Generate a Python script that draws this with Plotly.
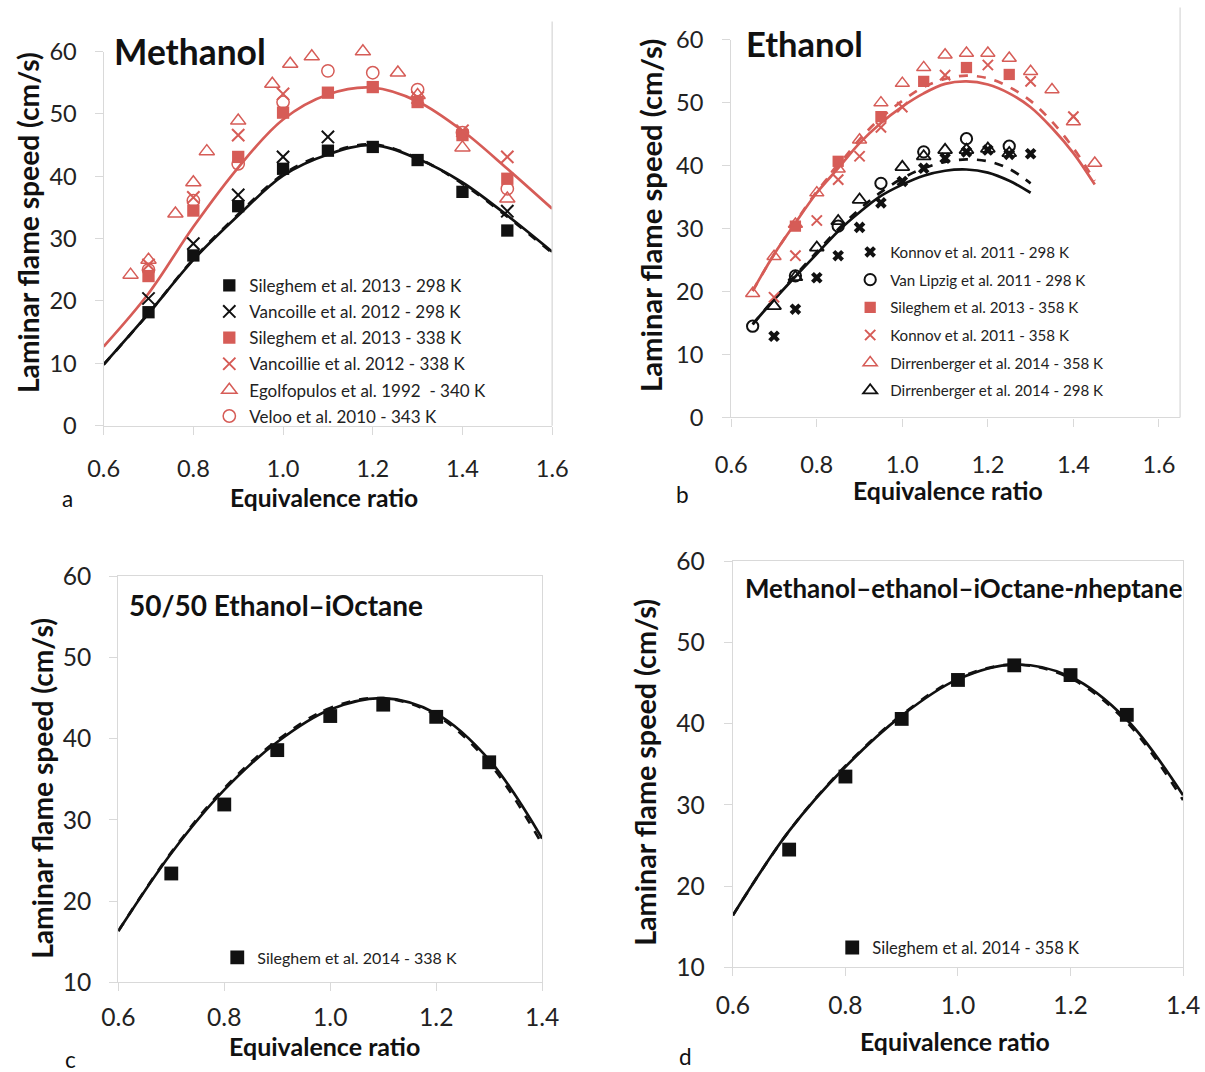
import plotly.graph_objects as go

W, H = 1205, 1072
FONT = "Lato"
BLACK = "#111111"
RED = "#d65c57"
AXIS_GREY = "#d9d9d9"
TICK_COLOR = "#222222"

# ---------------- Panel a: methanol ----------------
a_phi = [0.7, 0.8, 0.9, 1.0, 1.1, 1.2, 1.3, 1.4, 1.5]
a_sil298 = [18.2, 27.3, 35.2, 41.2, 44.1, 44.7, 42.6, 37.5, 31.3]
a_van298_phi = [0.7, 0.8, 0.9, 1.0, 1.1, 1.5]
a_van298 = [20.4, 29.2, 37.0, 43.1, 46.3, 34.4]
a_sil338 = [24.0, 34.5, 43.1, 50.2, 53.4, 54.3, 51.9, 46.6, 39.6]
a_van338_phi = [0.7, 0.8, 0.9, 1.0, 1.3, 1.4, 1.5]
a_van338 = [25.8, 36.6, 46.6, 53.2, 52.6, 47.3, 43.1]
a_ego_phi = [0.66, 0.70, 0.76, 0.80, 0.83, 0.90, 0.976, 1.016, 1.064, 1.178, 1.256, 1.30, 1.40, 1.50]
a_ego = [24.2, 26.6, 34.0, 39.0, 44.0, 48.9, 54.8, 58.0, 59.2, 60.0, 56.6, 53.0, 44.6, 36.4]
a_vel_phi = [0.7, 0.8, 0.9, 1.0, 1.1, 1.2, 1.3, 1.4, 1.5]
a_vel = [25.0, 36.1, 42.0, 51.9, 56.9, 56.6, 53.9, 47.0, 38.0]
a_curve_phi = [0.6, 0.7, 0.8, 0.9, 1.0, 1.1, 1.2, 1.3, 1.4, 1.5, 1.6]
a_black_solid = [9.8, 18.0, 26.6, 33.7, 40.1, 43.5, 45.0, 42.8, 39.0, 33.7, 27.9]
a_black_dashed = [9.8, 18.0, 26.7, 33.9, 40.3, 43.7, 45.1, 42.9, 38.8, 33.5, 27.7]
a_red_solid = [12.7, 21.2, 31.9, 41.4, 49.1, 53.1, 54.2, 52.0, 47.3, 41.2, 34.8]

# ---------------- Panel b: ethanol ----------------
b_kon298_phi = [0.70, 0.75, 0.80, 0.85, 0.90, 0.95, 1.00, 1.05, 1.10, 1.15, 1.20, 1.25, 1.30]
b_kon298 = [12.9, 17.2, 22.2, 25.7, 30.2, 34.1, 37.5, 39.6, 41.2, 42.2, 42.5, 41.8, 41.9]
b_vlz_phi = [0.65, 0.75, 0.85, 0.95, 1.05, 1.15, 1.25]
b_vlz = [14.5, 22.5, 30.4, 37.2, 42.2, 44.3, 43.1]
b_sil358_phi = [0.75, 0.85, 0.95, 1.05, 1.15, 1.25]
b_sil358 = [30.4, 40.7, 47.8, 53.4, 55.6, 54.5]
b_kon358_phi = [0.70, 0.75, 0.80, 0.85, 0.90, 0.95, 1.00, 1.10, 1.20, 1.30, 1.40]
b_kon358 = [19.1, 25.7, 31.3, 37.8, 41.5, 46.1, 49.3, 54.4, 56.0, 53.4, 47.8]
b_dir358_phi = [0.65, 0.70, 0.75, 0.80, 0.85, 0.90, 0.95, 1.00, 1.05, 1.10, 1.15, 1.20, 1.25, 1.30, 1.35, 1.40, 1.45]
b_dir358 = [19.7, 25.6, 30.7, 35.7, 39.5, 44.1, 50.0, 53.1, 55.6, 57.6, 57.9, 57.9, 57.1, 55.0, 52.1, 47.0, 40.4]
b_dir298_phi = [0.70, 0.75, 0.80, 0.85, 0.90, 1.00, 1.05, 1.10, 1.15, 1.20, 1.25]
b_dir298 = [17.7, 22.3, 27.0, 31.2, 34.6, 39.8, 41.5, 42.5, 42.5, 42.7, 42.0]
b_red_phi = [0.65, 0.70, 0.75, 0.80, 0.85, 0.90, 0.95, 1.00, 1.05, 1.10, 1.15, 1.20, 1.25, 1.30, 1.35, 1.40, 1.45]
b_red_solid = [20.1, 25.9, 30.9, 35.7, 39.6, 43.6, 46.8, 49.4, 51.5, 53.0, 53.4, 52.9, 51.5, 49.3, 46.0, 42.0, 37.0]
b_red_dashed = [20.1, 25.9, 31.0, 35.9, 40.0, 44.2, 47.6, 50.3, 52.5, 53.8, 54.3, 53.9, 52.5, 50.3, 47.0, 42.8, 37.6]
b_black_phi = [0.65, 0.70, 0.75, 0.80, 0.85, 0.90, 0.95, 1.00, 1.05, 1.10, 1.15, 1.20, 1.25, 1.30]
b_black_solid = [14.8, 18.7, 22.4, 26.0, 29.6, 32.6, 35.2, 37.0, 38.4, 39.2, 39.4, 38.9, 37.6, 35.7]
b_black_dashed = [14.8, 18.8, 22.6, 26.3, 29.9, 33.1, 35.8, 38.0, 39.6, 40.6, 41.0, 40.7, 39.5, 37.2]

# ---------------- Panel c: 50/50 ethanol-iOctane ----------------
c_phi = [0.7, 0.8, 0.9, 1.0, 1.1, 1.2, 1.3]
c_sil338 = [23.4, 31.9, 38.6, 42.8, 44.2, 42.7, 37.1]
c_curve_phi = [0.6, 0.7, 0.8, 0.9, 1.0, 1.1, 1.2, 1.3, 1.4]
c_solid = [16.3, 25.9, 33.7, 39.6, 43.6, 45.0, 43.1, 37.4, 27.7]
c_dashed = [16.3, 26.0, 33.9, 39.8, 43.8, 45.0, 42.9, 37.0, 27.0]

# ---------------- Panel d: quaternary blend ----------------
d_phi = [0.7, 0.8, 0.9, 1.0, 1.1, 1.2, 1.3]
d_sil358 = [24.5, 33.5, 40.6, 45.4, 47.2, 46.0, 41.1]
d_curve_phi = [0.6, 0.7, 0.8, 0.9, 1.0, 1.1, 1.2, 1.3, 1.4]
d_solid = [16.4, 26.8, 34.7, 41.0, 45.5, 47.3, 45.8, 40.5, 31.2]
d_dashed = [16.4, 26.8, 34.8, 41.1, 45.6, 47.3, 45.6, 40.2, 30.6]

x_ticks_wide = [0.6, 0.8, 1.0, 1.2, 1.4, 1.6]
x_ticks_narrow = [0.6, 0.8, 1.0, 1.2, 1.4]

# Page geometry: positions below are given in final-picture pixels; the
# figure is laid out on a slightly enlarged grid centred on the page.
S = 0.975
OX = W * (1 - S) / 2
OY = H * (1 - S) / 2


def px_x(v):
    return ((v - OX) / S) / W


def px_y(v):
    return 1 - ((v - OY) / S) / H


def fs(v):
    return v / S


fig = go.Figure()
group_counter = [0]


def markers(x, y, name, symbol, color, size, axes, legend, lw=2):
    group_counter[0] += 1
    fig.add_trace(go.Scatter(
        x=x, y=y, mode="markers", name=name,
        legendgroup=f"g{group_counter[0]}",
        marker=dict(symbol=symbol, color=color, size=fs(size),
                    line=dict(color=color, width=lw)),
        xaxis=axes[0], yaxis=axes[1], legend=legend, cliponaxis=False))


def curve(x, y, color, axes, dash="solid", width=2.7):
    fig.add_trace(go.Scatter(
        x=x, y=y, mode="lines", showlegend=False, hoverinfo="skip",
        line=dict(color=color, width=width, dash=dash, shape="spline", smoothing=1.0),
        xaxis=axes[0], yaxis=axes[1]))


A = ("x", "y")
B = ("x2", "y2")
C = ("x3", "y3")
D = ("x4", "y4")

# panel a
curve(a_curve_phi, a_black_dashed, BLACK, A, dash="dash")
curve(a_curve_phi, a_black_solid, BLACK, A)
curve(a_curve_phi, a_red_solid, RED, A)
markers(a_phi, a_sil298, "Sileghem et al. 2013 - 298 K", "square", BLACK, 12, A, "legend", 0)
markers(a_van298_phi, a_van298, "Vancoille et al. 2012 - 298 K", "x-thin", BLACK, 12, A, "legend")
markers(a_phi, a_sil338, "Sileghem et al. 2013 - 338 K", "square", RED, 12, A, "legend", 0)
markers(a_van338_phi, a_van338, "Vancoillie et al. 2012 - 338 K", "x-thin", RED, 12, A, "legend")
markers(a_ego_phi, a_ego, "Egolfopulos et al. 1992  - 340 K", "triangle-up-open", RED, 13, A, "legend", 1.5)
markers(a_vel_phi, a_vel, "Veloo et al. 2010 - 343 K", "circle-open", RED, 12, A, "legend", 1.5)

# panel b
curve(b_red_phi, b_red_dashed, RED, B, dash="dash")
curve(b_red_phi, b_red_solid, RED, B)
curve(b_black_phi, b_black_dashed, BLACK, B, dash="dash")
curve(b_black_phi, b_black_solid, BLACK, B)
markers(b_kon298_phi, b_kon298, "Konnov et al. 2011 - 298 K", "x", BLACK, 10, B, "legend2", 0)
markers(b_vlz_phi, b_vlz, "Van Lipzig et al. 2011 - 298 K", "circle-open", BLACK, 11, B, "legend2", 2)
markers(b_sil358_phi, b_sil358, "Sileghem et al. 2013 - 358 K", "square", RED, 11, B, "legend2", 0)
markers(b_kon358_phi, b_kon358, "Konnov et al. 2011 - 358 K", "x-thin", RED, 10, B, "legend2")
markers(b_dir358_phi, b_dir358, "Dirrenberger et al. 2014 - 358 K", "triangle-up-open", RED, 12, B, "legend2", 1.5)
markers(b_dir298_phi, b_dir298, "Dirrenberger et al. 2014 - 298 K", "triangle-up-open", BLACK, 12, B, "legend2", 1.8)

# panel c
curve(c_curve_phi, c_dashed, BLACK, C, dash="dash")
curve(c_curve_phi, c_solid, BLACK, C)
markers(c_phi, c_sil338, "Sileghem et al. 2014 - 338 K", "square", BLACK, 13.5, C, "legend3", 0)

# panel d
curve(d_curve_phi, d_dashed, BLACK, D, dash="dash")
curve(d_curve_phi, d_solid, BLACK, D)
markers(d_phi, d_sil358, "Sileghem et al. 2014 - 358 K", "square", BLACK, 13.5, D, "legend4", 0)


def xaxis(x0, x1, rng, ticks, standoff, size, mirror=False):
    return dict(domain=[px_x(x0), px_x(x1)], range=rng, tickvals=ticks,
                tickformat=".1f", showgrid=False, zeroline=False,
                showline=True, linecolor=AXIS_GREY, linewidth=1.3, mirror=mirror,
                ticks="outside", ticklen=8, tickcolor=AXIS_GREY, tickwidth=1.3,
                ticklabelstandoff=int(standoff),
                tickfont=dict(family=FONT, size=fs(size), color=TICK_COLOR))


def yaxis(y0, y1, rng, standoff, size, mirror=False):
    return dict(domain=[px_y(y0), px_y(y1)], range=rng, dtick=10,
                showgrid=False, zeroline=False,
                showline=True, linecolor=AXIS_GREY, linewidth=1.3, mirror=mirror,
                ticks="outside", ticklen=8, tickcolor=AXIS_GREY, tickwidth=1.3,
                ticklabelstandoff=int(standoff),
                tickfont=dict(family=FONT, size=fs(size), color=TICK_COLOR))


fig.update_layout(
    width=W, height=H, margin=dict(l=0, r=0, t=0, b=0),
    paper_bgcolor="white", plot_bgcolor="white",
    font=dict(family=FONT, color="#111111"),
    xaxis=xaxis(102, 552, [0.6, 1.6], x_ticks_wide, 14, 23),
    yaxis=yaxis(425, 50, [0, 60], 13, 23),
    xaxis2=dict(xaxis(731.7, 1182.2, [0.6, 1.65], x_ticks_wide, 18, 23), anchor="y2"),
    yaxis2=dict(yaxis(416.7, 38.3, [0, 60], 14, 23), anchor="x2"),
    xaxis3=dict(xaxis(116.7, 542, [0.6, 1.4], x_ticks_narrow, 5, 24, mirror=True), anchor="y3"),
    yaxis3=dict(yaxis(982.7, 576, [10, 60], 13, 24, mirror=True), anchor="x3"),
    xaxis4=dict(xaxis(733.3, 1185, [0.6, 1.4], x_ticks_narrow, 8, 24, mirror=True), anchor="y4"),
    yaxis4=dict(yaxis(967.7, 561, [10, 60], 14, 24, mirror=True), anchor="x4"),
    showlegend=True,
)

legend_common = dict(bgcolor="rgba(0,0,0,0)", borderwidth=0, traceorder="grouped",
                     xanchor="left", yanchor="top", itemwidth=30)
fig.update_layout(
    legend=dict(legend_common, x=px_x(208), y=px_y(266.7), tracegroupgap=1,
                font=dict(family=FONT, size=fs(16.6), color=TICK_COLOR)),
    legend2=dict(legend_common, x=px_x(851), y=px_y(234.5), tracegroupgap=5,
                 font=dict(family=FONT, size=fs(14.75), color=TICK_COLOR)),
    legend3=dict(legend_common, x=px_x(216), y=px_y(940.8),
                 font=dict(family=FONT, size=fs(15.6), color=TICK_COLOR)),
    legend4=dict(legend_common, x=px_x(833), y=px_y(930.5),
                 font=dict(family=FONT, size=fs(16.2), color=TICK_COLOR)),
)

# chart-area borders around the two upper panels
shapes = [
    dict(type="line", xref="paper", yref="paper", x0=px_x(552), x1=px_x(552),
         y0=px_y(20), y1=px_y(425), line=dict(color=AXIS_GREY, width=1.3)),
    dict(type="line", xref="paper", yref="paper", x0=px_x(1182), x1=px_x(1182),
         y0=px_y(6), y1=px_y(416.7), line=dict(color=AXIS_GREY, width=1.3)),
]
fig.update_layout(shapes=shapes)


def text(x, y, s, size, bold=False, angle=0, xanchor="center"):
    fig.add_annotation(x=px_x(x), y=px_y(y), xref="paper", yref="paper",
                       text=f"<b>{s}</b>" if bold else s, showarrow=False,
                       textangle=angle, xanchor=xanchor, yanchor="middle",
                       font=dict(family=FONT, size=fs(size), color="#111111"))


# panel titles
text(110, 50, "Methanol", 34.5, bold=True, xanchor="left")
text(744, 42, "Ethanol", 33.7, bold=True, xanchor="left")
text(125, 605, "50/50 Ethanol–iOctane", 27.3, bold=True, xanchor="left")
text(743, 588, "Methanol–ethanol–iOctane-<i>n</i>heptane", 25.3, bold=True, xanchor="left")

# axis titles
YT = "Laminar flame speed (cm/s)"
XT = "Equivalence ratio"
text(323, 497, XT, 24, bold=True)
text(949, 490, XT, 24.2, bold=True)
text(324, 1047, XT, 24.4, bold=True)
text(956, 1042, XT, 24.2, bold=True)
text(26, 221, YT, 27.5, bold=True, angle=-90)
text(650, 214, YT, 28.5, bold=True, angle=-90)
text(40, 788, YT, 27.5, bold=True, angle=-90)
text(645, 772, YT, 28, bold=True, angle=-90)

# panel letters
text(66, 498, "a", 22)
text(683, 494, "b", 22)
text(69, 1060, "c", 22)
text(686, 1057, "d", 22)

fig.write_html("out.html")
